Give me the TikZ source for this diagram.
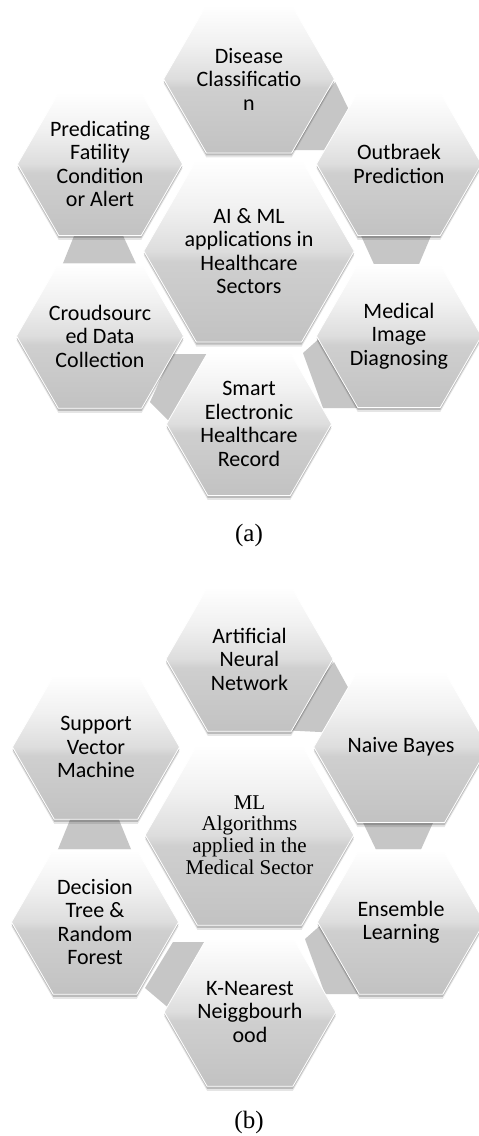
\documentclass[tikz,border=0pt]{standalone}
\usepackage{fontspec}
\setmainfont{Liberation Serif}
\newfontfamily\calibrifam{Carlito}
\usetikzlibrary{shapes.geometric,calc}
\pgfdeclarelayer{paper}
\pgfdeclarelayer{linklayer}
\pgfsetlayers{paper,linklayer,main}
\definecolor{hexbot}{HTML}{C2C2C2}
\definecolor{hexlow}{HTML}{CFCFCF}
\definecolor{hexmid}{HTML}{DDDDDD}
\definecolor{hexup}{HTML}{F1F1F1}
\definecolor{linkgray}{HTML}{C6C6C6}
\pgfdeclareverticalshading{hexshade}{100bp}{color(0bp)=(hexbot); color(25bp)=(hexbot); color(47bp)=(hexlow); color(50bp)=(hexmid); color(62bp)=(hexup); color(75bp)=(white); color(100bp)=(white)}
\newcommand\hexcalfont{\calibrifam\fontsize{22}{23.5}\selectfont}
\newcommand\hextimesfont{\fontsize{21}{21.6}\selectfont}
\newcommand\hexlinks[1]{%
  \fill[link] ($(#1ul.south)+(-25,-2)$) -- ($(#1ul.south)+(22,-2)$) -- ($(#1ll.north)+(37,2)$) -- ($(#1ll.north)+(-38,2)$) -- cycle;
  \fill[link] ($(#1ur.south)+(-39,-2)$) -- ($(#1ur.south)+(33,-2)$) -- ($(#1lr.north)+(19,2)$) -- ($(#1lr.north)+(-24,2)$) -- cycle;
  \fill[link] ($(#1top.east)+(1,3)$) -- ($(#1ur.center)+(-51,-56)$) -- ($(#1ur.center)+(-60,-14)$) -- ($(#1top.center)+(30,71)$) -- cycle;
  \fill[link] ($(#1lr.center)+(-96,17)$) -- ($(#1lr.center)+(-78,1)$) -- ($(#1lr.center)+(-41,72)$) -- ($(#1lr.center)+(-76,72)$) -- cycle;
  \fill[link] ($(#1b.center)+(-77,-70)$) -- ($(#1b.center)+(-39,-70)$) -- ($(#1b.center)+(-79,-2)$) -- ($(#1ll.center)+(50,66)$) -- cycle;
}
\begin{document}
\begin{tikzpicture}[x=1pt,y=-1pt,
  hexbox/.style={regular polygon, regular polygon sides=6, minimum size=#1,
    inner sep=0pt, outer sep=0pt, shade, shading=hexshade, draw=white, line width=0.8pt,
    align=center, text=black, font=\hexcalfont,
    preaction={fill=black, fill opacity=0.10, draw=none, transform canvas={yshift=-4.5pt}},
    preaction={fill=black, fill opacity=0.18, draw=none, transform canvas={yshift=-2.5pt}}},
  hexbox/.default=165pt,
  link/.style={fill=linkgray, draw=none},
  caption/.style={font=\fontsize{25}{25}\selectfont, inner sep=0pt}]
\useasboundingbox (0,0) rectangle (479,1136);
\begin{pgfonlayer}{paper}
\fill[white] (0,0) rectangle (479,1136);
\end{pgfonlayer}

% hexagon nodes (a)
\node[hexbox] (Atop) at (249,79) {Disease\\Classificatio\\n};
\node[hexbox] (Aul) at (100,164) {Predicating\\Fatility\\Condition\\or Alert};
\node[hexbox] (Aur) at (399,164) {Outbraek\\Prediction};
\node[hexbox=198pt] (Ac) at (249,251) {AI \& ML\\applications in\\Healthcare\\Sectors};
\node[hexbox] (All) at (100,336) {Croudsourc\\ed Data\\Collection};
\node[hexbox] (Alr) at (399,336) {Medical\\Image\\Diagnosing};
\node[hexbox] (Ab) at (249,424) {Smart\\Electronic\\Healthcare\\Record};

% hexagon nodes (b)
\node[hexbox=167pt] (Btop) at (249.5,659) {Artificial\\Neural\\Network};
\node[hexbox=167pt] (Bul) at (96,747) {Support\\Vector\\Machine};
\node[hexbox=167pt] (Bur) at (401,747) {Naive Bayes};
\node[hexbox=204pt, font=\hextimesfont] (Bc) at (249.5,835) {ML\\Algorithms\\applied in the\\Medical Sector};
\node[hexbox=167pt] (Bll) at (95,922) {Decision\\Tree \&\\Random\\Forest};
\node[hexbox=167pt] (Blr) at (401,922) {Ensemble\\Learning};
\node[hexbox=167pt] (Bb) at (250,1012) {K-Nearest\\Neiggbourh\\ood};

% gray links behind the hexagons
\begin{pgfonlayer}{linklayer}
\hexlinks{A}
\hexlinks{B}
\end{pgfonlayer}

\node[caption] (capa) at (249,535) {(a)};
\node[caption] (capb) at (249,1122) {(b)};
\end{tikzpicture}
\end{document}
